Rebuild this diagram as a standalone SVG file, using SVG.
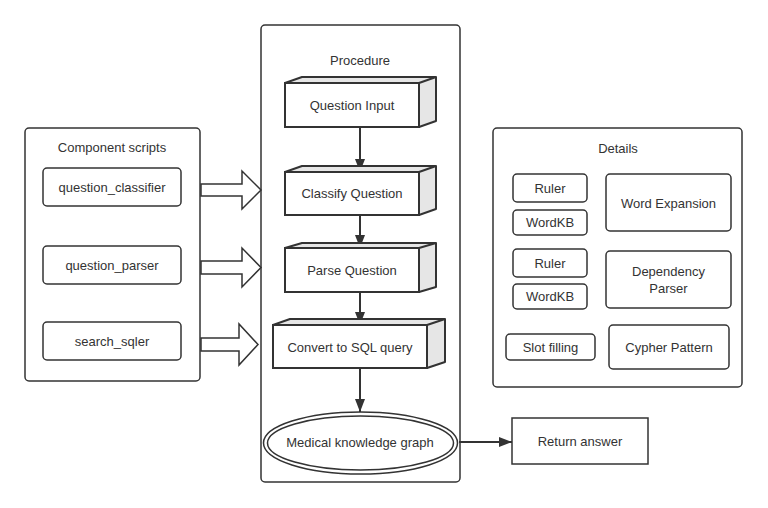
<svg xmlns="http://www.w3.org/2000/svg" width="768" height="508" viewBox="0 0 768 508">
<defs>
<style>
text{font-family:"Liberation Sans","Noto Sans",Arial,sans-serif;font-size:13px;fill:#333;text-anchor:middle;dominant-baseline:central}
.c{fill:#fff;stroke:#333;stroke-width:1.5}
.b{fill:#fff;stroke:#333;stroke-width:1.5}
.f{fill:#fff;stroke:#333;stroke-width:2}
.s{fill:#e6e6e6;stroke:#333;stroke-width:2;stroke-linejoin:round}
.l{fill:none;stroke:#333;stroke-width:2}
.ba{fill:#fff;stroke:#333;stroke-width:1.5}
</style>
<marker id="ah" viewBox="0 0 10 10" refX="10" refY="5" markerWidth="10" markerHeight="10" markerUnits="userSpaceOnUse" orient="auto">
<path d="M0,0 L10,5 L0,10 z" fill="#333"/>
</marker>
<marker id="ahv" viewBox="0 0 13 10" refX="13" refY="5" markerWidth="13" markerHeight="10" markerUnits="userSpaceOnUse" orient="auto">
<path d="M0,0 L13,5 L0,10 z" fill="#333"/>
</marker>
</defs>
<rect width="768" height="508" fill="#fff"/>

<g id="components">
<rect class="c" x="25" y="128" width="175" height="253" rx="4"/>
<text x="112" y="147">Component scripts</text>
</g>
<g id="question_classifier">
<rect class="b" x="43" y="168" width="138" height="38" rx="4"/>
<text x="112" y="187">question_classifier</text>
</g>
<g id="question_parser">
<rect class="b" x="43" y="246" width="138" height="38" rx="4"/>
<text x="112" y="265">question_parser</text>
</g>
<g id="search_sqler">
<rect class="b" x="43" y="322" width="138" height="38" rx="4"/>
<text x="112" y="341">search_sqler</text>
</g>

<g id="procedure">
<rect class="c" x="261" y="25" width="199" height="457" rx="4"/>
<text x="360" y="60">Procedure</text>
</g>

<g id="details">
<rect class="c" x="493" y="128" width="249" height="259" rx="4"/>
<text x="618" y="148">Details</text>
</g>

<g id="connectors">
<polygon class="ba" points="201,184 242,184 242,171 261,190 242,209 242,196 201,196"/>
<polygon class="ba" points="201,261 242,261 242,248 261,267.5 242,287 242,274 201,274"/>
<polygon class="ba" points="201,338 239,338 239,324 258,344.5 239,365 239,351 201,351"/>
<line class="l" x1="360" y1="127" x2="360" y2="172" marker-end="url(#ahv)"/>
<line class="l" x1="360" y1="215" x2="360" y2="248" marker-end="url(#ahv)"/>
<line class="l" x1="360" y1="292" x2="360" y2="325" marker-end="url(#ahv)"/>
<line class="l" x1="360" y1="368" x2="360" y2="412" marker-end="url(#ahv)"/>
<line class="l" x1="459" y1="442" x2="512" y2="442" marker-end="url(#ahv)"/>
</g>

<g id="question_input">
<polygon class="s" points="285,83 302,77 436,77 436,121 419,127 419,83"/>
<polyline class="l" points="419,83 436,77"/>
<rect class="f" x="285" y="83" width="134" height="44"/>
<text x="352" y="105">Question Input</text>
</g>
<g id="classify_question">
<polygon class="s" points="285,172 302,166 436,166 436,209 419,215 419,172"/>
<polyline class="l" points="419,172 436,166"/>
<rect class="f" x="285" y="172" width="134" height="43"/>
<text x="352" y="193.5">Classify Question</text>
</g>
<g id="parse_question">
<polygon class="s" points="285,248 302,243 436,243 436,287 419,292 419,248"/>
<polyline class="l" points="419,248 436,243"/>
<rect class="f" x="285" y="248" width="134" height="44"/>
<text x="352" y="270">Parse Question</text>
</g>
<g id="convert_sql">
<polygon class="s" points="273,325 290,319 445,319 445,362 427,368 427,325"/>
<polyline class="l" points="427,325 445,319"/>
<rect class="f" x="273" y="325" width="154" height="43"/>
<text x="350" y="347">Convert to SQL query</text>
</g>

<g id="medical_kg">
<ellipse cx="360.5" cy="443" rx="97" ry="31" fill="#fff" stroke="#333" stroke-width="1.5"/>
<ellipse cx="360.5" cy="443" rx="93" ry="27" fill="none" stroke="#333" stroke-width="1.5"/>
<text x="360" y="442">Medical knowledge graph</text>
</g>
<g id="return_answer">
<rect class="b" x="512" y="418" width="136" height="46"/>
<text x="580" y="441">Return answer</text>
</g>

<g id="ruler1">
<rect class="b" x="513" y="174" width="74" height="28" rx="4"/>
<text x="550" y="188">Ruler</text>
</g>
<g id="wordkb1">
<rect class="b" x="513" y="210" width="74" height="25" rx="4"/>
<text x="550" y="222.5">WordKB</text>
</g>
<g id="ruler2">
<rect class="b" x="513" y="249" width="74" height="28" rx="4"/>
<text x="550" y="263">Ruler</text>
</g>
<g id="wordkb2">
<rect class="b" x="513" y="284" width="74" height="25" rx="4"/>
<text x="550" y="296.5">WordKB</text>
</g>
<g id="slot_filling">
<rect class="b" x="506" y="334" width="89" height="26" rx="4"/>
<text x="550.5" y="347">Slot filling</text>
</g>
<g id="word_expansion">
<rect class="b" x="606" y="174" width="125" height="57" rx="4"/>
<text x="668.5" y="203">Word Expansion</text>
</g>
<g id="dependency_parser">
<rect class="b" x="606" y="251" width="125" height="57" rx="4"/>
<text x="668.5" y="271">Dependency</text>
<text x="668.5" y="288">Parser</text>
</g>
<g id="cypher_pattern">
<rect class="b" x="609" y="325" width="120" height="44" rx="4"/>
<text x="669" y="347">Cypher Pattern</text>
</g>
</svg>
